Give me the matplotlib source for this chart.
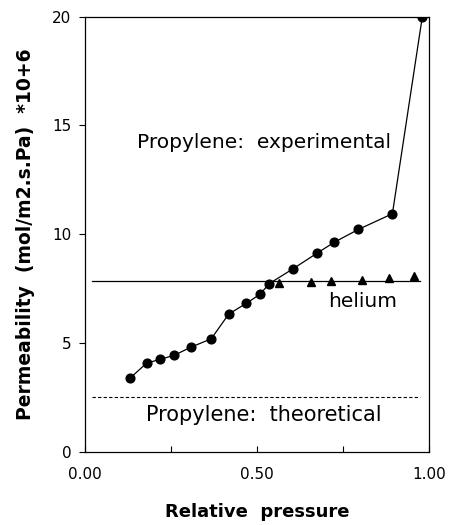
import numpy as np
import matplotlib
matplotlib.use("Agg")
import matplotlib.pyplot as plt

# propylene, experimental (circles)
p_prop = [0.132, 0.179, 0.219, 0.259, 0.307, 0.367, 0.418, 0.469, 0.509, 0.536,
          0.604, 0.676, 0.725, 0.795, 0.894, 0.981]
perm_prop = [3.4, 4.07, 4.25, 4.43, 4.8, 5.19, 6.33, 6.82, 7.24, 7.73,
             8.4, 9.14, 9.63, 10.22, 10.94, 20.0]

# helium (triangles)
p_he = [0.565, 0.657, 0.715, 0.807, 0.884, 0.957]
perm_he = [7.76, 7.8, 7.85, 7.9, 8.0, 8.06]

# horizontal reference lines
line_x = [0.02, 0.975]
helium_level = 7.83
theoretical_level = 2.53

fig = plt.figure(figsize=(4.5, 5.25), dpi=100)
ax = fig.add_axes([0.189, 0.1396, 0.764, 0.8286])

ax.plot(p_prop, perm_prop, color='black', lw=0.9, marker='o', ms=6.3,
        mfc='black', mec='black')
ax.plot(p_he, perm_he, ls='none', marker='^', ms=5.8, color='black')
ax.plot(line_x, [helium_level, helium_level], color='black', lw=0.9)
ax.plot(line_x, [theoretical_level, theoretical_level], color='black',
        lw=0.8, ls=(0, (3, 2)))

ax.text(0.52, 14.2, 'Propylene:  experimental', fontsize=14.5,
        ha='center', va='center')
ax.text(0.806, 6.9, 'helium', fontsize=14.5, ha='center', va='center')
ax.text(0.52, 1.7, 'Propylene:  theoretical', fontsize=15,
        ha='center', va='center')

ax.set_xlim(0, 1.0)
ax.set_ylim(0, 20)
ax.set_xticks([0, 0.25, 0.5, 0.75, 1.0])
ax.set_xticklabels(['0.00', '', '0.50', '', '1.00'])
ax.set_yticks([0, 5, 10, 15, 20])
ax.tick_params(axis='x', direction='in', length=4, width=0.8, labelsize=11, pad=11)
ax.tick_params(axis='y', direction='out', length=4, width=0.8, labelsize=11, pad=6)

fig.text(0.571, 0.008, 'Relative  pressure', fontsize=13, fontweight='bold',
         ha='center', va='bottom')
ax.set_ylabel('Permeability  (mol/m2.s.Pa)  *10+6', fontsize=13.5,
              fontweight='bold', labelpad=12)

for s in ax.spines.values():
    s.set_linewidth(0.9)

fig.savefig('out.png', dpi=100)
